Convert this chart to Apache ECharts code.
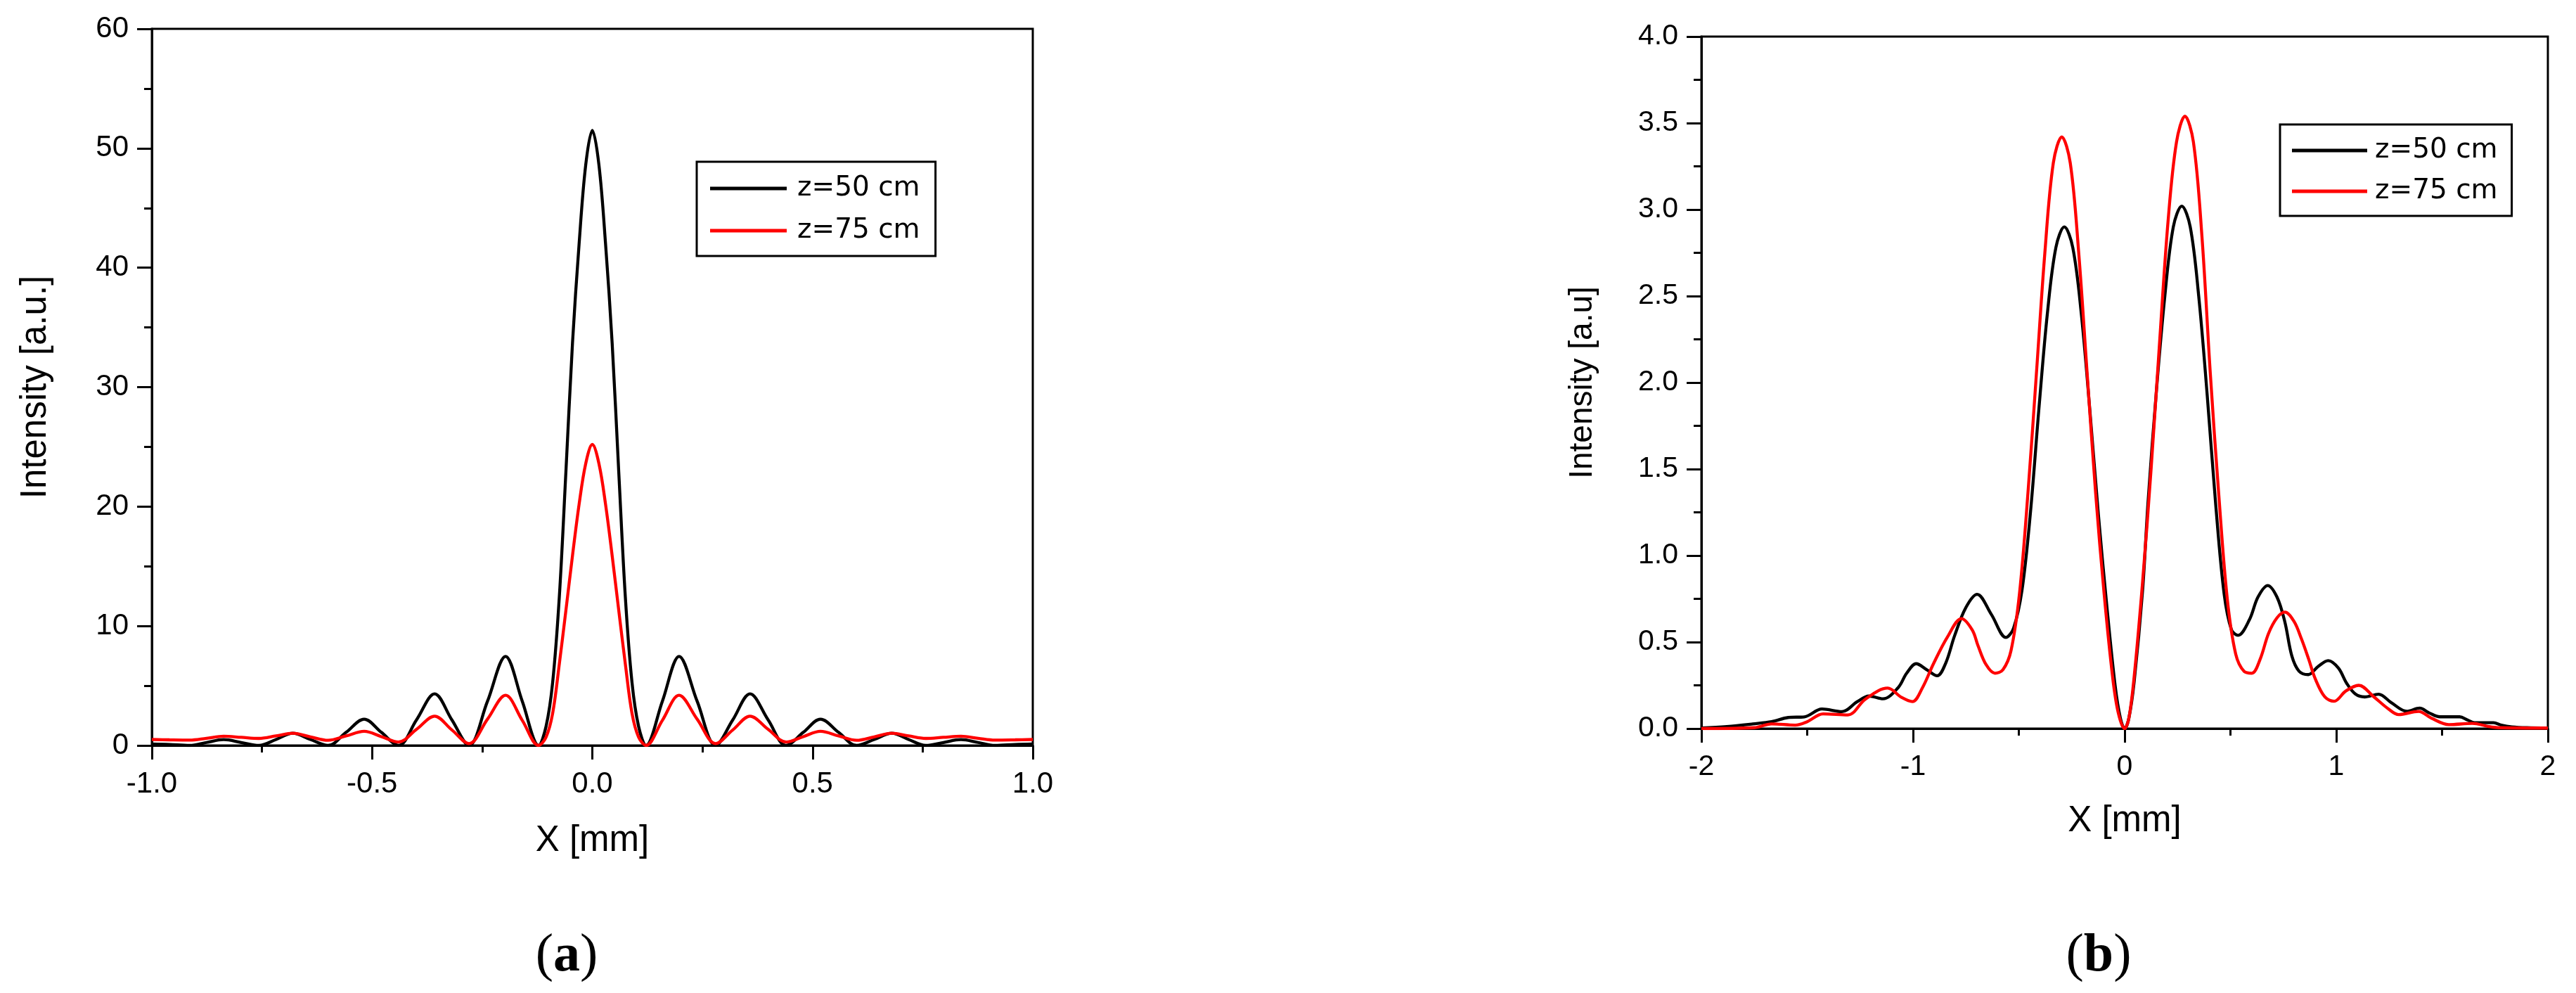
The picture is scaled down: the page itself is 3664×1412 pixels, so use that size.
<!DOCTYPE html>
<html>
<head>
<meta charset="utf-8">
<title>Intensity profiles</title>
<script src="https://cdn.jsdelivr.net/npm/echarts@6/dist/echarts.min.js"></script>
<style>
  html, body { margin: 0; padding: 0; background: #fff; }
  #chartExample { width: 3664px; height: 1412px; }
</style>
</head>
<body>
<div id="chartExample"></div>
<script>
// (a) X [mm] positions, shared by both curves
var xA = [-1.0, -0.96, -0.914, -0.876, -0.837, -0.797, -0.757, -0.718, -0.68, -0.64, -0.6, -0.559, -0.518, -0.479, -0.44,
  -0.399, -0.358, -0.319, -0.28, -0.238, -0.197, -0.159, -0.122, -0.105, -0.09, -0.075, -0.06, -0.045, -0.03, -0.015, 0,
  0.015, 0.03, 0.045, 0.06, 0.075, 0.09, 0.105, 0.122, 0.159, 0.197, 0.238, 0.28, 0.319, 0.358, 0.399, 0.44,
  0.479, 0.518, 0.559, 0.6, 0.64, 0.68, 0.718, 0.757, 0.797, 0.837, 0.876, 0.914, 0.96, 1.0];
var yA50 = [0.12, 0.08, 0, 0.25, 0.49, 0.25, 0, 0.5, 1.02, 0.5, 0, 1.1, 2.2, 1.1, 0,
  2.15, 4.32, 2.15, 0, 3.7, 7.45, 3.7, 0, 1.6, 5.3, 12.4, 22.9, 33.7, 42.0, 48.6, 51.5,
  48.6, 42.0, 33.7, 22.9, 12.4, 5.3, 1.6, 0, 3.7, 7.45, 3.7, 0, 2.15, 4.32, 2.15, 0,
  1.1, 2.2, 1.1, 0, 0.5, 1.02, 0.5, 0, 0.25, 0.49, 0.25, 0, 0.08, 0.12];
var yA75 = [0.5, 0.47, 0.45, 0.6, 0.77, 0.68, 0.59, 0.8, 1.02, 0.72, 0.43, 0.8, 1.18, 0.74, 0.29,
  1.35, 2.45, 1.3, 0.16, 2.2, 4.2, 2.1, 0, 0.7, 2.7, 6.8, 11.3, 15.9, 20.2, 23.6, 25.2,
  23.6, 20.2, 15.9, 11.3, 6.8, 2.7, 0.7, 0, 2.1, 4.2, 2.2, 0.16, 1.3, 2.45, 1.35, 0.29,
  0.74, 1.18, 0.8, 0.43, 0.72, 1.02, 0.8, 0.59, 0.68, 0.77, 0.6, 0.45, 0.47, 0.5];

// (b) z=50 cm
var xB50 = [-2.0, -1.88, -1.757, -1.668, -1.59, -1.513, -1.43, -1.336, -1.263, -1.208, -1.142, -1.07, -1.03, -0.985,
  -0.935, -0.886, -0.845, -0.804, -0.75, -0.697, -0.63, -0.561, -0.525, -0.485, -0.445, -0.405, -0.365, -0.325,
  -0.285, -0.245, -0.205, -0.165, -0.125, -0.085, -0.045, -0.02, 0, 0.02, 0.045, 0.085, 0.11, 0.15, 0.19, 0.23,
  0.27, 0.31, 0.35, 0.39, 0.43, 0.47, 0.505, 0.536, 0.59, 0.63, 0.676, 0.72, 0.757, 0.79, 0.824, 0.868, 0.915,
  0.962, 1.01, 1.05, 1.09, 1.134, 1.2, 1.26, 1.333, 1.394, 1.44, 1.49, 1.583, 1.62, 1.654, 1.743, 1.78, 1.83, 1.9, 2.0];
var yB50 = [0.003, 0.012, 0.027, 0.04, 0.064, 0.068, 0.113, 0.098, 0.156, 0.188, 0.172, 0.237, 0.32, 0.375,
  0.34, 0.305, 0.38, 0.535, 0.7, 0.776, 0.66, 0.527, 0.58, 0.8, 1.25, 1.85, 2.4, 2.78,
  2.9, 2.78, 2.4, 1.85, 1.25, 0.72, 0.25, 0.06, 0, 0.06, 0.27, 0.8, 1.3, 1.95, 2.5, 2.9,
  3.02, 2.9, 2.5, 1.93, 1.3, 0.78, 0.57, 0.539, 0.63, 0.76, 0.827, 0.76, 0.617, 0.42, 0.332, 0.312, 0.36,
  0.393, 0.35, 0.26, 0.2, 0.183, 0.199, 0.15, 0.1, 0.118, 0.09, 0.068, 0.068, 0.05, 0.034, 0.034, 0.02, 0.01, 0.005, 0.003];

// (b) z=75 cm
var xB75 = [-2.0, -1.75, -1.668, -1.557, -1.5, -1.425, -1.308, -1.225, -1.12, -1.054, -1.003, -0.955, -0.904, -0.837,
  -0.771, -0.72, -0.693, -0.655, -0.613, -0.575, -0.537, -0.497, -0.457, -0.417, -0.377, -0.337, -0.297, -0.257,
  -0.217, -0.177, -0.137, -0.097, -0.057, -0.03, 0, 0.02, 0.045, 0.085, 0.125, 0.165, 0.205, 0.245, 0.285, 0.325,
  0.365, 0.405, 0.445, 0.485, 0.525, 0.565, 0.601, 0.64, 0.68, 0.72, 0.757, 0.8, 0.835, 0.87, 0.9, 0.946, 0.99,
  1.045, 1.106, 1.178, 1.245, 1.295, 1.389, 1.45, 1.532, 1.643, 1.72, 1.77, 2.0];
var yB75 = [0.0, 0.005, 0.027, 0.02, 0.04, 0.085, 0.079, 0.17, 0.234, 0.18, 0.156, 0.237, 0.373, 0.53,
  0.636, 0.57, 0.48, 0.37, 0.32, 0.34, 0.45, 0.78, 1.36, 2.05, 2.75, 3.27, 3.42, 3.27,
  2.75, 2.05, 1.36, 0.78, 0.3, 0.09, 0, 0.06, 0.3, 0.85, 1.5, 2.23, 2.93, 3.39, 3.54, 3.39,
  2.85, 2.05, 1.35, 0.75, 0.43, 0.33, 0.32, 0.4, 0.55, 0.64, 0.673, 0.62, 0.52, 0.4, 0.29, 0.183, 0.158,
  0.217, 0.25, 0.183, 0.115, 0.081, 0.099, 0.06, 0.023, 0.03, 0.012, 0.005, 0.003];

var seriesNames = ['z=50 cm', 'z=75 cm'];
var ticksA = ['-1.0', '-0.5', '0.0', '0.5', '1.0'];

function pairs(xs, ys) {
    var out = [];
    for (var i = 0; i < xs.length; i++) {
        out.push([xs[i], ys[i]]);
    }
    return out;
}

function showProfiles() {
    var myChart = echarts.init(document.getElementById('chartExample'));
    var font = 'Liberation Sans, Arial, sans-serif';

    function xAxisOf(grid, min, max, interval, fontSize, gap, fmt) {
        return {
            type: 'value', gridIndex: grid, min: min, max: max, interval: interval,
            name: 'X [mm]', nameLocation: 'middle', nameGap: gap,
            nameTextStyle: { fontFamily: font, fontSize: 51, color: '#000' },
            axisLine: { show: true, onZero: false, lineStyle: { color: '#000', width: 3 } },
            axisTick: { show: true, length: 20, lineStyle: { color: '#000', width: 3 } },
            minorTick: { show: true, splitNumber: 2, length: 10, lineStyle: { color: '#000', width: 3 } },
            axisLabel: { fontFamily: font, fontSize: fontSize, color: '#000', margin: 34, formatter: fmt },
            splitLine: { show: false }
        };
    }

    function yAxisOf(grid, max, interval, name, nameSize, fontSize, gap, fmt) {
        return {
            type: 'value', gridIndex: grid, min: 0, max: max, interval: interval,
            name: name, nameLocation: 'middle', nameGap: gap,
            nameTextStyle: { fontFamily: font, fontSize: nameSize, color: '#000' },
            axisLine: { show: true, onZero: false, lineStyle: { color: '#000', width: 3 } },
            axisTick: { show: true, length: 21, lineStyle: { color: '#000', width: 3 } },
            minorTick: { show: true, splitNumber: 2, length: 11, lineStyle: { color: '#000', width: 3 } },
            axisLabel: { fontFamily: font, fontSize: fontSize, color: '#000', margin: 33, formatter: fmt },
            splitLine: { show: false }
        };
    }

    // legend: plain line sample (thin rect) + label, in a black box
    function legendOf(left, top, lineLen, gap, pad, textPad) {
        return {
            left: left, top: top, orient: 'vertical', data: seriesNames, selectedMode: false,
            icon: 'rect', itemWidth: lineLen, itemHeight: 5, itemGap: gap, padding: pad,
            borderColor: '#000', borderWidth: 3, backgroundColor: '#fff', borderRadius: 0,
            textStyle: { fontFamily: 'DejaVu Sans', fontSize: 39, lineHeight: 44, color: '#000', padding: [0, 0, 0, textPad] }
        };
    }

    function lineOf(name, x, y, color, xi) {
        return {
            name: name, type: 'line', xAxisIndex: xi, yAxisIndex: xi,
            data: pairs(x, y), showSymbol: false, symbol: 'none', smooth: 0.35,
            lineStyle: { color: color, width: 4.3 }, itemStyle: { color: color }
        };
    }

    var option = {
        animation: false,
        backgroundColor: '#fff',
        grid: [
            { left: 216, top: 41, width: 1253, height: 1019, show: true, borderColor: '#000', borderWidth: 3 },
            { left: 2420, top: 52, width: 1204, height: 984, show: true, borderColor: '#000', borderWidth: 3 }
        ],
        xAxis: [
            xAxisOf(0, -1, 1, 0.5, 42, 110, function (v) { return ticksA[Math.round((v + 1) * 2)]; }),
            xAxisOf(1, -2, 2, 1, 41, 106, function (v) { return String(v); })
        ],
        yAxis: [
            yAxisOf(0, 60, 10, 'Intensity [a.u.]', 51, 42, 140, function (v) { return String(v); }),
            yAxisOf(1, 4, 0.5, 'Intensity [a.u]', 46, 41, 146, function (v) { return v.toFixed(1); })
        ],
        legend: [
            legendOf(991, 230, 109, 16, [16, 22, 14, 19], 10),
            legendOf(3243, 177, 107, 14, [15, 20, 13, 17], 6)
        ],
        series: [
            lineOf(seriesNames[0], xA, yA50, '#000000', 0),
            lineOf(seriesNames[1], xA, yA75, '#ff0000', 0),
            lineOf(seriesNames[0], xB50, yB50, '#000000', 1),
            lineOf(seriesNames[1], xB75, yB75, '#ff0000', 1)
        ],
        graphic: [
            {
                type: 'text', x: 806, y: 1360,
                style: {
                    text: '{p|(}{b|a}{p|)}', align: 'center', verticalAlign: 'middle', fill: '#000',
                    rich: {
                        p: { fontFamily: 'Liberation Serif', fontSize: 76, fill: '#000' },
                        b: { fontFamily: 'Liberation Serif', fontSize: 76, fontWeight: 'bold', fill: '#000' }
                    }
                }
            },
            {
                type: 'text', x: 2985, y: 1360,
                style: {
                    text: '{p|(}{b|b}{p|)}', align: 'center', verticalAlign: 'middle', fill: '#000',
                    rich: {
                        p: { fontFamily: 'Liberation Serif', fontSize: 76, fill: '#000' },
                        b: { fontFamily: 'Liberation Serif', fontSize: 76, fontWeight: 'bold', fill: '#000' }
                    }
                }
            }
        ]
    };
    myChart.setOption(option);
}

showProfiles();
</script>
</body>
</html>
